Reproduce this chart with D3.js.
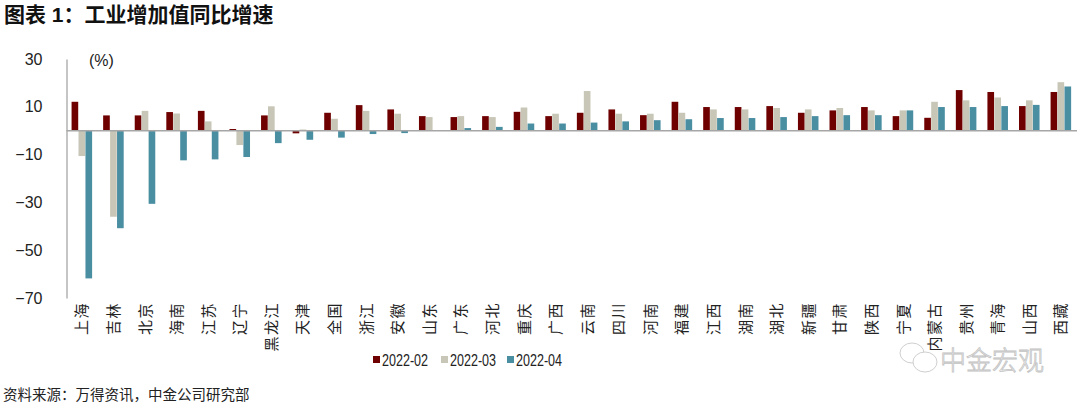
<!DOCTYPE html>
<html>
<head>
<meta charset="utf-8">
<script src="https://cdn.jsdelivr.net/npm/d3@7"></script>
<style>
  body { margin: 0; background: #fff; }
  text { font-family: "Liberation Sans", "Noto Sans CJK SC", sans-serif; }
</style>
</head>
<body>
<div id="plot"></div>
<script>
var provinces = ["上海","吉林","北京","海南","江苏","辽宁","黑龙江","天津","全国","浙江",
                 "安徽","山东","广东","河北","重庆","广西","云南","四川","河南","福建",
                 "江西","湖南","湖北","新疆","甘肃","陕西","宁夏","内蒙古","贵州","青海",
                 "山西","西藏"];
var seriesNames = ["2022-02", "2022-03", "2022-04"];
var feb = [12.1, 6.4, 6.4, 7.8, 8.3, 0.7, 6.4, -1.1, 7.5, 10.7,
           8.9, 6.1, 5.7, 6.1, 7.9, 6.1, 7.5, 8.9, 6.5, 12.1,
           9.9, 9.9, 10.3, 7.5, 8.5, 9.9, 6.1, 5.4, 17.0, 16.2,
           10.3, 16.2];
var mar = [-10.6, -36.0, 8.3, 7.2, 3.9, -6.0, 10.2, 0.5, 5.0, 8.3,
           7.1, 5.7, 6.1, 5.7, 9.7, 7.1, 16.6, 7.1, 7.1, 7.5,
           8.9, 8.9, 9.5, 8.9, 9.5, 8.5, 8.5, 12.1, 12.7, 13.9,
           12.7, 20.3];
var apr = [-61.8, -40.8, -30.6, -12.4, -12.0, -11.0, -5.2, -3.8, -2.9, -1.4,
           -1.0, 0.1, 1.1, 1.6, 3.0, 3.0, 3.4, 3.9, 4.4, 4.8,
           5.3, 5.3, 5.7, 6.1, 6.5, 6.5, 8.5, 9.9, 9.9, 10.3,
           10.8, 18.5];
var yTicks = [30, 10, -10, -30, -50, -70];
var colors = ["#6f0000", "#c8c6b6", "#4a8ea2"];

var width = 1080, height = 408;
var svg = d3.select("#plot").append("svg")
    .attr("width", width)
    .attr("height", height);

// title
svg.append("text")
    .attr("x", 4).attr("y", 22)
    .style("font-size", "21px")
    .style("font-weight", "bold")
    .attr("fill", "#111")
    .text("图表 1：工业增加值同比增速");

// scales
var x0 = d3.scaleBand()
    .domain(provinces)
    .range([66.2, 1076.8])
    .paddingInner(0.34)
    .paddingOuter(0.17);

var x1 = d3.scaleBand()
    .domain(seriesNames)
    .range([0, x0.bandwidth()]);

var y = d3.scaleLinear()
    .domain([-70, 30])
    .range([298, 59]);

// y axis
var axisY = svg.append("g")
    .attr("transform", "translate(66.5,0)")
    .call(d3.axisLeft(y).tickValues(yTicks).tickSizeInner(0).tickSizeOuter(0).tickPadding(24));
axisY.select(".domain").attr("stroke", "#a6a6a6").attr("stroke-width", 1.3);
axisY.selectAll("text")
    .style("font-size", "16px")
    .attr("fill", "#222");

svg.append("text")
    .attr("x", 89).attr("y", 66)
    .style("font-size", "16px")
    .attr("fill", "#222")
    .text("(%)");

// bars
var data = provinces.map(function(p, i) {
    return {name: p, values: [feb[i], mar[i], apr[i]]};
});

var groups = svg.selectAll(".grp")
    .data(data)
    .enter().append("g")
    .attr("class", "grp")
    .attr("transform", function(d) { return "translate(" + x0(d.name) + ",0)"; });

groups.selectAll("rect")
    .data(function(d) { return d.values.map(function(v, j) { return {s: seriesNames[j], v: v, c: colors[j]}; }); })
    .enter().append("rect")
    .attr("x", function(d) { return x1(d.s); })
    .attr("width", x1.bandwidth() - 0.3)
    .attr("y", function(d) { return y(Math.max(0, d.v)); })
    .attr("height", function(d) { return Math.abs(y(d.v) - y(0)); })
    .attr("fill", function(d) { return d.c; });

// zero line
svg.append("line")
    .attr("x1", 66.5).attr("x2", 1077)
    .attr("y1", y(0)).attr("y2", y(0))
    .attr("stroke", "#a6a6a6")
    .attr("stroke-width", 1.5);

// x labels (rotated)
svg.selectAll(".xlab")
    .data(provinces)
    .enter().append("text")
    .attr("class", "xlab")
    .attr("transform", function(d) { return "translate(" + (x0(d) + x0.bandwidth() / 2) + ",302) rotate(-90)"; })
    .attr("dy", "0.36em")
    .attr("text-anchor", "end")
    .style("font-size", "15px")
    .style("letter-spacing", "1.5px")
    .attr("fill", "#222")
    .text(function(d) { return d; });

// legend
var legendX = [373, 441, 507];
seriesNames.forEach(function(s, i) {
    svg.append("rect")
        .attr("x", legendX[i]).attr("y", 356)
        .attr("width", 7).attr("height", 7)
        .attr("fill", colors[i]);
    svg.append("text")
        .attr("x", legendX[i] + 9).attr("y", 366)
        .style("font-size", "17px")
        .attr("textLength", 46)
        .attr("lengthAdjust", "spacingAndGlyphs")
        .attr("fill", "#222")
        .text(s);
});

// watermark
var wm = svg.append("g").attr("fill", "none").attr("stroke", "#cfcfcf").attr("stroke-width", 1);
wm.append("ellipse").attr("cx", 912).attr("cy", 353).attr("rx", 12).attr("ry", 10);
wm.append("ellipse").attr("cx", 925).attr("cy", 362).attr("rx", 12).attr("ry", 10).attr("fill", "#fff");
svg.append("text")
    .attr("x", 940).attr("y", 370)
    .style("font-size", "26px")
    .style("font-weight", "300")
    .attr("fill", "#fff")
    .attr("stroke", "#c2c2c2")
    .attr("stroke-width", 0.8)
    .text("中金宏观");

// source
svg.append("text")
    .attr("x", 3).attr("y", 400)
    .style("font-size", "14.5px")
    .attr("fill", "#222")
    .text("资料来源：万得资讯，中金公司研究部");
</script>
</body>
</html>
